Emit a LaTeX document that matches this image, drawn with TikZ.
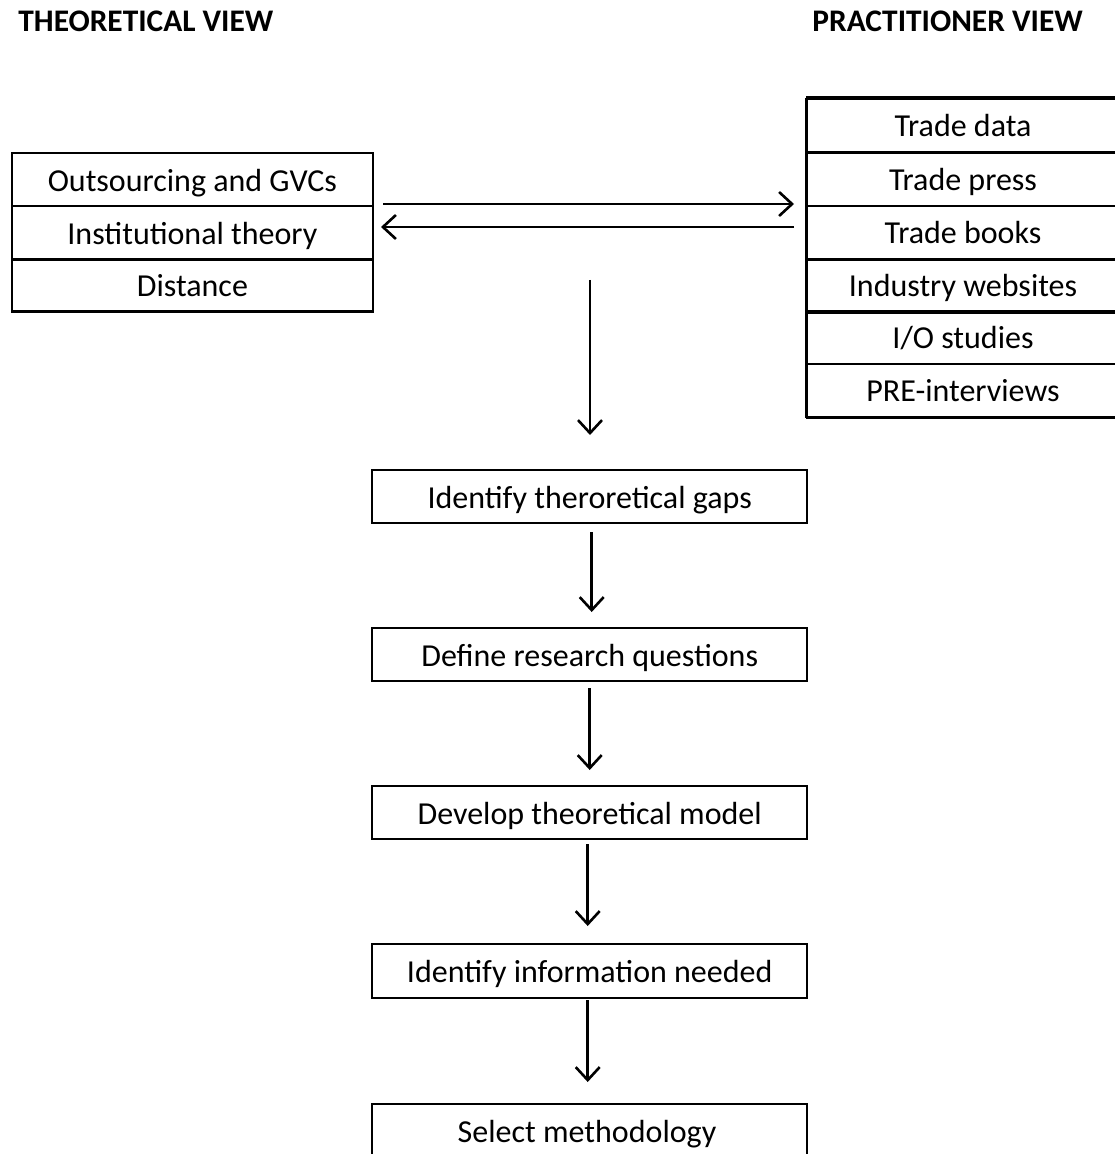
\documentclass[tikz,border=0pt]{standalone}
\usepackage{fontspec}
\setmainfont{Carlito}
\usetikzlibrary{arrows.meta}
\begin{document}
\begin{tikzpicture}[x=0.5pt,y=-0.5pt,
  txt/.style={font=\fontsize{16}{18}\selectfont, text height=11.7pt, text depth=0pt},
  cell/.style={draw, line width=0.9pt, inner sep=0pt, anchor=north west, txt},
  flowbox/.style={draw, line width=1.2pt, inner sep=0pt, anchor=north west, txt},
  heading/.style={anchor=west, inner sep=0pt, font=\fontsize{15.7}{18}\selectfont\bfseries},
  link/.style={line width=1.3pt, -{Straight Barb[length=6.5pt,width=12pt,line width=1.3pt]}}]
\useasboundingbox (0,0) rectangle (1114,1154);

% column headings
\node[heading] (th) at (18,21) {THEORETICAL VIEW};
\node[heading] (pr) at (812,21) {PRACTITIONER VIEW};

% theoretical view stack
\node[cell, minimum width=361pt*0.5, minimum height=53pt*0.5] (t1) at (11,152) {Outsourcing and GVCs};
\node[cell, minimum width=361pt*0.5, minimum height=53pt*0.5] (t2) at (11,205) {Institutional theory};
\node[cell, minimum width=361pt*0.5, minimum height=52pt*0.5] (t3) at (11,258) {Distance};
\draw[line width=1.5pt] (t2.south west) -- (t2.south east);
\draw[line width=1.5pt] (t3.south west) -- (t3.south east);

% practitioner view stack
\foreach \i/\txt/\y in {1/Trade data/98, 2/Trade press/152, 3/Trade books/205,
    4/Industry websites/258, 5/I\slash O studies/310, 6/PRE-interviews/363} {
  \node[cell, minimum width=320pt*0.5, minimum height=53pt*0.5] (p\i) at (806,\y) {};
  \node[txt, inner sep=0pt] (pt\i) at (963,\y+27) {\txt};
}
\draw[line width=1.5pt] (p1.north west) -- (p6.south west);
\draw[line width=1.5pt] (p1.north west) -- (p1.north east);
\draw[line width=1.5pt] (p3.south west) -- (p3.south east);
\draw[line width=1.5pt] (p4.south west) -- (p4.south east);
\draw[line width=1.5pt] (p6.south west) -- (p6.south east);

% exchange between the two views
\coordinate (r0) at (383,204);
\coordinate (r1) at (794,204);
\coordinate (l0) at (794,227);
\coordinate (l1) at (381,227);
\draw[link] (r0) -- (r1);
\draw[link] (l0) -- (l1);

% research process
\node[flowbox, minimum width=435pt*0.5, minimum height=53pt*0.5] (f1) at (371,469) {Identify theroretical gaps};
\node[flowbox, minimum width=435pt*0.5, minimum height=53pt*0.5] (f2) at (371,627) {Define research questions};
\node[flowbox, minimum width=435pt*0.5, minimum height=53pt*0.5] (f3) at (371,785) {Develop theoretical model};
\node[flowbox, minimum width=435pt*0.5, minimum height=54pt*0.5] (f4) at (371,943) {Identify information needed};
\node[flowbox, minimum width=435pt*0.5, minimum height=60pt*0.5] (f5) at (371,1103) {};
\node[txt, inner sep=0pt] (f5t) at (587,1131) {Select methodology};

\coordinate (v0) at (590,280);
\coordinate (v1) at (590,435);
\draw[link] (v0) -- (v1);
\draw[link] ([xshift=1pt]f1.south |- 0,532) -- ([xshift=1pt]f1.south |- 0,612);
\draw[link] (f2.south |- 0,688) -- (f2.south |- 0,770);
\draw[link] ([xshift=-1pt]f3.south |- 0,844) -- ([xshift=-1pt]f3.south |- 0,926);
\draw[link] ([xshift=-1pt]f4.south |- 0,1000) -- ([xshift=-1pt]f4.south |- 0,1082);
\end{tikzpicture}
\end{document}
